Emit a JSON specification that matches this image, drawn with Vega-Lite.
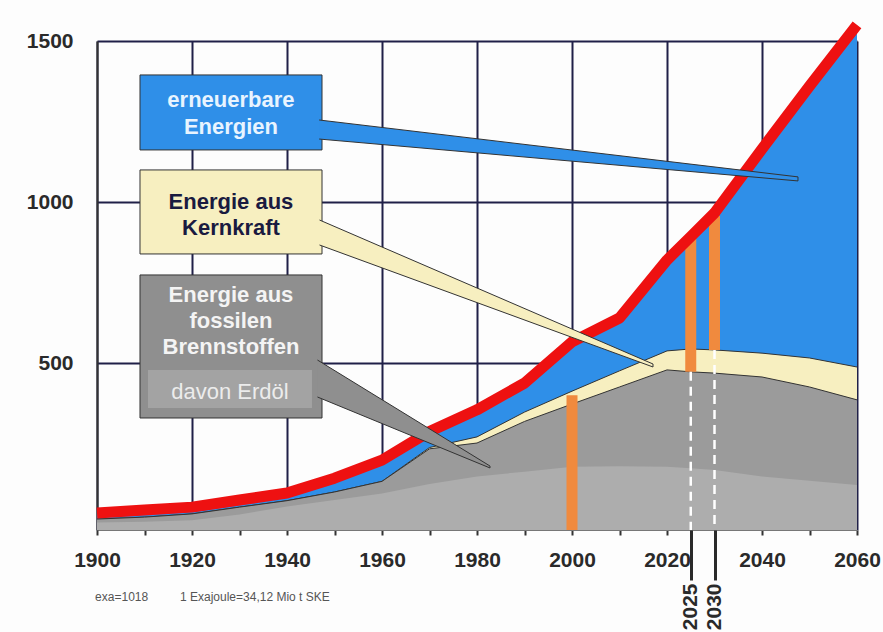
{
  "$schema": "https://vega.github.io/schema/vega-lite/v6.json",
  "width": 760,
  "height": 489,
  "autosize": {"type": "none"},
  "padding": {"left": 97, "top": 41, "right": 26, "bottom": 102},
  "background": "#fdfdfd",
  "config": {"view": {"stroke": null}, "font": "Liberation Sans"},
  "data": {
    "values": [
      {"year": 1900, "total": 35, "fossilPlusNuclear": 16, "fossil": 16, "oil": 5},
      {"year": 1910, "total": 44, "fossilPlusNuclear": 22, "fossil": 22, "oil": 8},
      {"year": 1920, "total": 53, "fossilPlusNuclear": 32, "fossil": 32, "oil": 12},
      {"year": 1930, "total": 75, "fossilPlusNuclear": 53, "fossil": 53, "oil": 30},
      {"year": 1940, "total": 97, "fossilPlusNuclear": 73, "fossil": 73, "oil": 55},
      {"year": 1950, "total": 143, "fossilPlusNuclear": 100, "fossil": 100, "oil": 75},
      {"year": 1960, "total": 199, "fossilPlusNuclear": 133, "fossil": 133, "oil": 95},
      {"year": 1970, "total": 288, "fossilPlusNuclear": 238, "fossil": 234, "oil": 125},
      {"year": 1980, "total": 355, "fossilPlusNuclear": 271, "fossil": 252, "oil": 148},
      {"year": 1990, "total": 438, "fossilPlusNuclear": 348, "fossil": 319, "oil": 163},
      {"year": 2000, "total": 566, "fossilPlusNuclear": 413, "fossil": 373, "oil": 178},
      {"year": 2010, "total": 640, "fossilPlusNuclear": 476, "fossil": 426, "oil": 180},
      {"year": 2020, "total": 820, "fossilPlusNuclear": 538, "fossil": 479, "oil": 178},
      {"year": 2025, "total": 893, "fossilPlusNuclear": 544, "fossil": 473, "oil": 174},
      {"year": 2030, "total": 966, "fossilPlusNuclear": 541, "fossil": 469, "oil": 168},
      {"year": 2040, "total": 1165, "fossilPlusNuclear": 531, "fossil": 457, "oil": 148},
      {"year": 2050, "total": 1360, "fossilPlusNuclear": 516, "fossil": 426, "oil": 135},
      {"year": 2060, "total": 1550, "fossilPlusNuclear": 488, "fossil": 386, "oil": 122}
    ]
  },
  "resolve": {"axis": {"x": "independent"}},
  "layer": [
    {
      "mark": {"type": "area", "color": "#2f8fe8", "opacity": 1},
      "encoding": {
        "x": {
          "field": "year", "type": "quantitative",
          "scale": {"domain": [1900, 2060], "nice": false, "zero": false},
          "axis": {
            "orient": "bottom",
            "values": [1900, 1910, 1920, 1930, 1940, 1950, 1960, 1970, 1980, 1990, 2000, 2010, 2020, 2030, 2040, 2050, 2060],
            "format": "d",
            "labelExpr": "datum.value % 20 === 0 ? datum.label : ''",
            "labelFontSize": 21, "labelFontWeight": "bold", "labelColor": "#2a2a2a",
            "labelPadding": 14, "labelFlush": false, "labelOverlap": false,
            "tickSize": 5, "tickWidth": 2, "tickColor": "#333333",
            "domainColor": "#777777", "domainWidth": 1,
            "grid": true, "gridColor": "#202048", "gridWidth": 2,
            "gridOpacity": {"condition": {"test": "datum.value % 20 === 0", "value": 1}, "value": 0},
            "title": null
          }
        },
        "y": {
          "field": "total", "type": "quantitative",
          "scale": {"domain": [-18, 1500], "nice": false, "zero": false},
          "axis": {
            "values": [500, 1000, 1500],
            "format": "d",
            "grid": true, "gridColor": "#202048", "gridWidth": 2,
            "ticks": false, "domain": true, "domainColor": "#333333", "domainWidth": 2,
            "labelFontSize": 21, "labelFontWeight": "bold", "labelColor": "#2a2a2a",
            "labelPadding": 24, "title": null
          }
        },
        "y2": {"datum": -18}
      }
    },
    {
      "mark": {"type": "area", "color": "#f7efc0", "opacity": 1, "line": {"color": "#333333", "strokeWidth": 1}},
      "encoding": {
        "x": {"field": "year", "type": "quantitative", "axis": null},
        "y": {"field": "fossilPlusNuclear", "type": "quantitative"},
        "y2": {"datum": -18}
      }
    },
    {
      "mark": {"type": "area", "color": "#9b9b9b", "opacity": 1, "line": {"color": "#333333", "strokeWidth": 1}},
      "encoding": {
        "x": {"field": "year", "type": "quantitative", "axis": null},
        "y": {"field": "fossil", "type": "quantitative"},
        "y2": {"datum": -18}
      }
    },
    {
      "mark": {"type": "area", "color": "#adadad", "opacity": 1},
      "encoding": {
        "x": {"field": "year", "type": "quantitative", "axis": null},
        "y": {"field": "oil", "type": "quantitative"},
        "y2": {"datum": -18}
      }
    },
    {
      "data": {"values": [
        {"year": 2000, "from": -18, "to": 400},
        {"year": 2025, "from": 473, "to": 885},
        {"year": 2030, "from": 541, "to": 957}
      ]},
      "mark": {"type": "rule", "color": "#f08a3e", "strokeWidth": 11, "opacity": 1},
      "encoding": {
        "x": {"field": "year", "type": "quantitative", "axis": null},
        "y": {"field": "from", "type": "quantitative"},
        "y2": {"field": "to"}
      }
    },
    {
      "data": {"values": [
        {"year": 2025, "top": 473},
        {"year": 2030, "top": 541}
      ]},
      "mark": {"type": "rule", "color": "#ffffff", "strokeWidth": 2.5, "strokeDash": [9, 6]},
      "encoding": {
        "x": {
          "field": "year", "type": "quantitative",
          "axis": {
            "orient": "bottom",
            "values": [2025, 2030], "format": "d",
            "labelAngle": 270, "labelFontSize": 21, "labelFontWeight": "bold", "labelColor": "#2a2a2a",
            "labelPadding": 3, "labelFlush": false, "labelOverlap": false,
            "tickSize": 50, "tickWidth": 3, "tickColor": "#2a2a2a",
            "domain": false, "grid": false, "title": null
          }
        },
        "y": {"field": "top", "type": "quantitative"},
        "y2": {"datum": -18}
      }
    },
    {
      "mark": {"type": "line", "color": "#ee1111", "strokeWidth": 11, "strokeCap": "butt", "strokeJoin": "round"},
      "encoding": {
        "x": {"field": "year", "type": "quantitative", "axis": null},
        "y": {"field": "total", "type": "quantitative"}
      }
    },
    {
      "data": {"values": [{}]},
      "mark": {"type": "rect", "color": "#2f8fe8", "stroke": "#333333", "strokeWidth": 1, "opacity": 1},
      "encoding": {
        "x": {"datum": 1909.05, "axis": null}, "x2": {"datum": 1947.37},
        "y": {"datum": 1394.6}, "y2": {"datum": 1161.8}
      }
    },
    {
      "data": {"values": [{}]},
      "mark": {"type": "rect", "color": "#f7efc0", "stroke": "#333333", "strokeWidth": 1, "opacity": 1},
      "encoding": {
        "x": {"datum": 1909.05, "axis": null}, "x2": {"datum": 1947.37},
        "y": {"datum": 1099.7}, "y2": {"datum": 838.9}
      }
    },
    {
      "data": {"values": [{}]},
      "mark": {"type": "rect", "color": "#8f8f8f", "stroke": "#333333", "strokeWidth": 1, "opacity": 1},
      "encoding": {
        "x": {"datum": 1909.05, "axis": null}, "x2": {"datum": 1947.37},
        "y": {"datum": 773.7}, "y2": {"datum": 329.7}
      }
    },
    {
      "data": {"values": [{}]},
      "mark": {"type": "rect", "color": "#a3a3a3", "opacity": 1},
      "encoding": {
        "x": {"datum": 1910.74, "axis": null}, "x2": {"datum": 1945.26},
        "y": {"datum": 478.7}, "y2": {"datum": 360.8}
      }
    },
    {
      "data": {"values": [{}]},
      "mark": {"type": "point", "shape": "M-1.012,-0.128L1,0.111L1,0.128L-1.012,-0.048", "size": 226576, "filled": true, "fill": "#2f8fe8", "stroke": "#333333", "strokeWidth": 1, "opacity": 1},
      "encoding": {
        "x": {"datum": 1997.47, "axis": null},
        "y": {"datum": 1160.2}
      }
    },
    {
      "data": {"values": [{}]},
      "mark": {"type": "point", "shape": "M-1.015,-0.444L1,0.426L1,0.444L-1.015,-0.293", "size": 109561, "filled": true, "fill": "#f7efc0", "stroke": "#333333", "strokeWidth": 1, "opacity": 1},
      "encoding": {
        "x": {"datum": 1982.21, "axis": null},
        "y": {"datum": 716.2}
      }
    },
    {
      "data": {"values": [{}]},
      "mark": {"type": "point", "shape": "M-1.03,-0.635L1,0.612L1,0.635L-1.03,-0.2", "size": 28900, "filled": true, "fill": "#8f8f8f", "stroke": "#333333", "strokeWidth": 1, "opacity": 1},
      "encoding": {
        "x": {"datum": 1964.84, "axis": null},
        "y": {"datum": 342.1}
      }
    },
    {
      "data": {"values": [{}]},
      "mark": {"type": "text", "text": ["erneuerbare", "Energien"], "lineHeight": 27, "fontSize": 22, "fontWeight": "bold", "color": "#e8f4ff", "align": "center", "baseline": "middle"},
      "encoding": {
        "x": {"datum": 1928.2, "axis": null},
        "y": {"datum": 1317}
      }
    },
    {
      "data": {"values": [{}]},
      "mark": {"type": "text", "text": ["Energie aus", "Kernkraft"], "lineHeight": 26, "fontSize": 22, "fontWeight": "bold", "color": "#1a1a40", "align": "center", "baseline": "middle"},
      "encoding": {
        "x": {"datum": 1928.2, "axis": null},
        "y": {"datum": 1000}
      }
    },
    {
      "data": {"values": [{}]},
      "mark": {"type": "text", "text": ["Energie aus", "fossilen", "Brennstoffen"], "lineHeight": 26, "fontSize": 22, "fontWeight": "bold", "color": "#f4f4f4", "align": "center", "baseline": "middle"},
      "encoding": {
        "x": {"datum": 1928.2, "axis": null},
        "y": {"datum": 711.6}
      }
    },
    {
      "data": {"values": [{}]},
      "mark": {"type": "text", "text": "davon Erdöl", "fontSize": 22, "fontWeight": "normal", "color": "#ececec", "align": "center", "baseline": "middle"},
      "encoding": {
        "x": {"datum": 1928.0, "axis": null},
        "y": {"datum": 410.4}
      }
    },
    {
      "data": {"values": [{}]},
      "mark": {"type": "text", "text": "exa=1018", "fontSize": 12, "color": "#555555", "align": "left", "baseline": "middle"},
      "encoding": {
        "x": {"datum": 1899.6, "axis": null},
        "y": {"datum": -226}
      }
    },
    {
      "data": {"values": [{}]},
      "mark": {"type": "text", "text": "1 Exajoule=34,12 Mio t SKE", "fontSize": 12, "color": "#555555", "align": "left", "baseline": "middle"},
      "encoding": {
        "x": {"datum": 1917.47, "axis": null},
        "y": {"datum": -226}
      }
    }
  ]
}
